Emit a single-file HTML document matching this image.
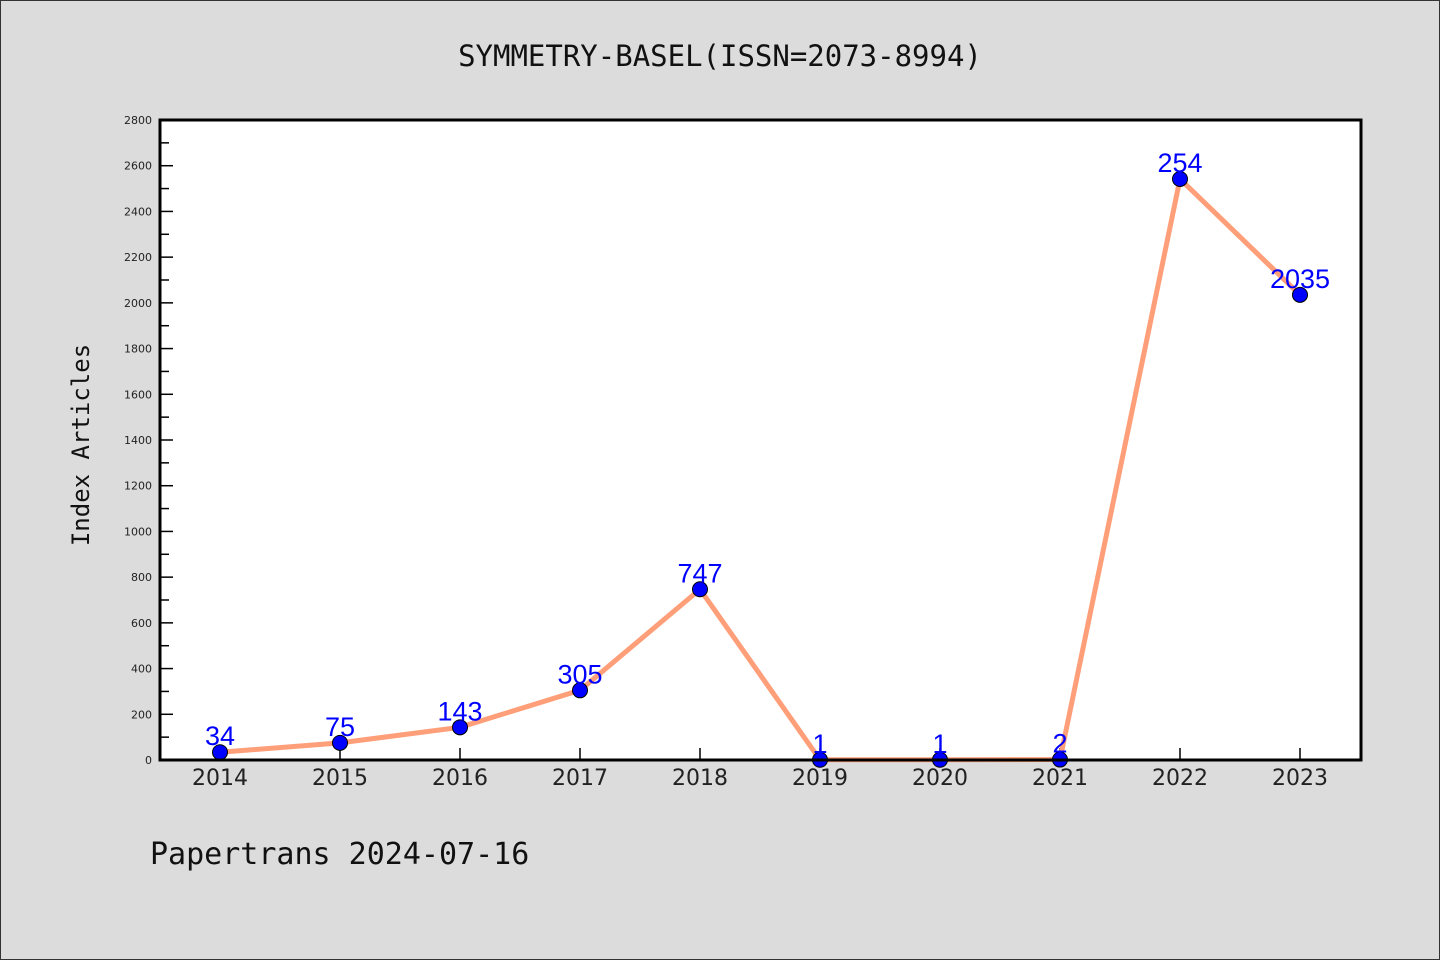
<!DOCTYPE html>
<html><head><meta charset="utf-8"><style>
html,body{margin:0;padding:0;background:#dcdcdc;}
svg{display:block;}
</style></head><body>
<svg id="chart" width="1440" height="960" xmlns="http://www.w3.org/2000/svg">
<rect x="0.5" y="0.5" width="1439" height="959" fill="#dcdcdc" stroke="#333" stroke-width="1"/>
<text x="720" y="66" text-anchor="middle" font-family="'DejaVu Sans Mono','Liberation Mono',monospace" font-size="29" fill="#111">SYMMETRY-BASEL(ISSN=2073-8994)</text>
<rect x="160" y="120" width="1201" height="640" fill="#fff"/>
<g id="yaxis"></g>
<g id="xaxis"></g>
<g id="series"></g>
<rect x="160" y="120" width="1201" height="640" fill="none" stroke="#000" stroke-width="3"/>
<text transform="translate(89,445) rotate(-90)" text-anchor="middle" font-family="'DejaVu Sans Mono','Liberation Mono',monospace" font-size="24" fill="#111">Index Articles</text>
<text x="150" y="864" font-family="'DejaVu Sans Mono','Liberation Mono',monospace" font-size="30" fill="#111">Papertrans 2024-07-16</text>
</svg>
<script>
const categories = ["2014","2015","2016","2017","2018","2019","2020","2021","2022","2023"];
const values = [34,75,143,305,747,1,1,2,2542,2035];
const valueLabels = ["34","75","143","305","747","1","1","2","254","2035"];
const yTicks = [0,200,400,600,800,1000,1200,1400,1600,1800,2000,2200,2400,2600,2800];
const yMax = 2800;
const NS="http://www.w3.org/2000/svg";
const L=160,R=1361,T=120,B=760;
function xs(i){return 220+i*120;}
function ys(v){return B-(v/yMax)*(B-T);}
function mk(tag,attrs,parent){const e=document.createElementNS(NS,tag);for(const k in attrs)e.setAttribute(k,attrs[k]);parent.appendChild(e);return e;}
const ya=document.getElementById('yaxis'),xa=document.getElementById('xaxis'),sg=document.getElementById('series');
yTicks.forEach((t,i)=>{
  const y=ys(t);
  const ln=mk('line',{x1:L,x2:L+13,y1:y,y2:y,stroke:'#000','stroke-width':1.5},ya);
  
  
  const tx=mk('text',{x:152,y:y+4,'text-anchor':'end','font-family':"'DejaVu Sans','Liberation Sans',sans-serif",'font-size':11,fill:'#222'},ya);
  tx.textContent=t;
  
  
  if(i<yTicks.length-1){
    const ym=ys(t+100);
    const mn=mk('line',{x1:L,x2:L+9,y1:ym,y2:ym,stroke:'#000','stroke-width':1.5},ya);
    
    
  }
});
categories.forEach((c,i)=>{
  const tk=mk('line',{x1:xs(i),x2:xs(i),y1:B,y2:B-12,stroke:'#000','stroke-width':1.5},xa);
  
  
  const tx=mk('text',{x:xs(i),y:785,'text-anchor':'middle','font-family':"'DejaVu Sans','Liberation Sans',sans-serif",'font-size':22,fill:'#222'},xa);
  tx.textContent=c;
  
  
});
const pts=values.map((v,i)=>xs(i)+','+ys(v)).join(' ');
const pl=mk('polyline',{points:pts,fill:'none',stroke:'#ff9f7a','stroke-width':5,'stroke-linejoin':'round'},sg);


values.forEach((v,i)=>{
  const c=mk('circle',{cx:xs(i),cy:ys(v),r:7.5,fill:'#0000ff',stroke:'#000','stroke-width':1},sg);
  
  
});
values.forEach((v,i)=>{
  const t=mk('text',{x:xs(i),y:ys(v)-7,'text-anchor':'middle','font-family':"'Liberation Sans',sans-serif",'font-size':27,fill:'#0000ff'},sg);
  t.textContent=valueLabels[i];
  
  
});
</script>
</body></html>
